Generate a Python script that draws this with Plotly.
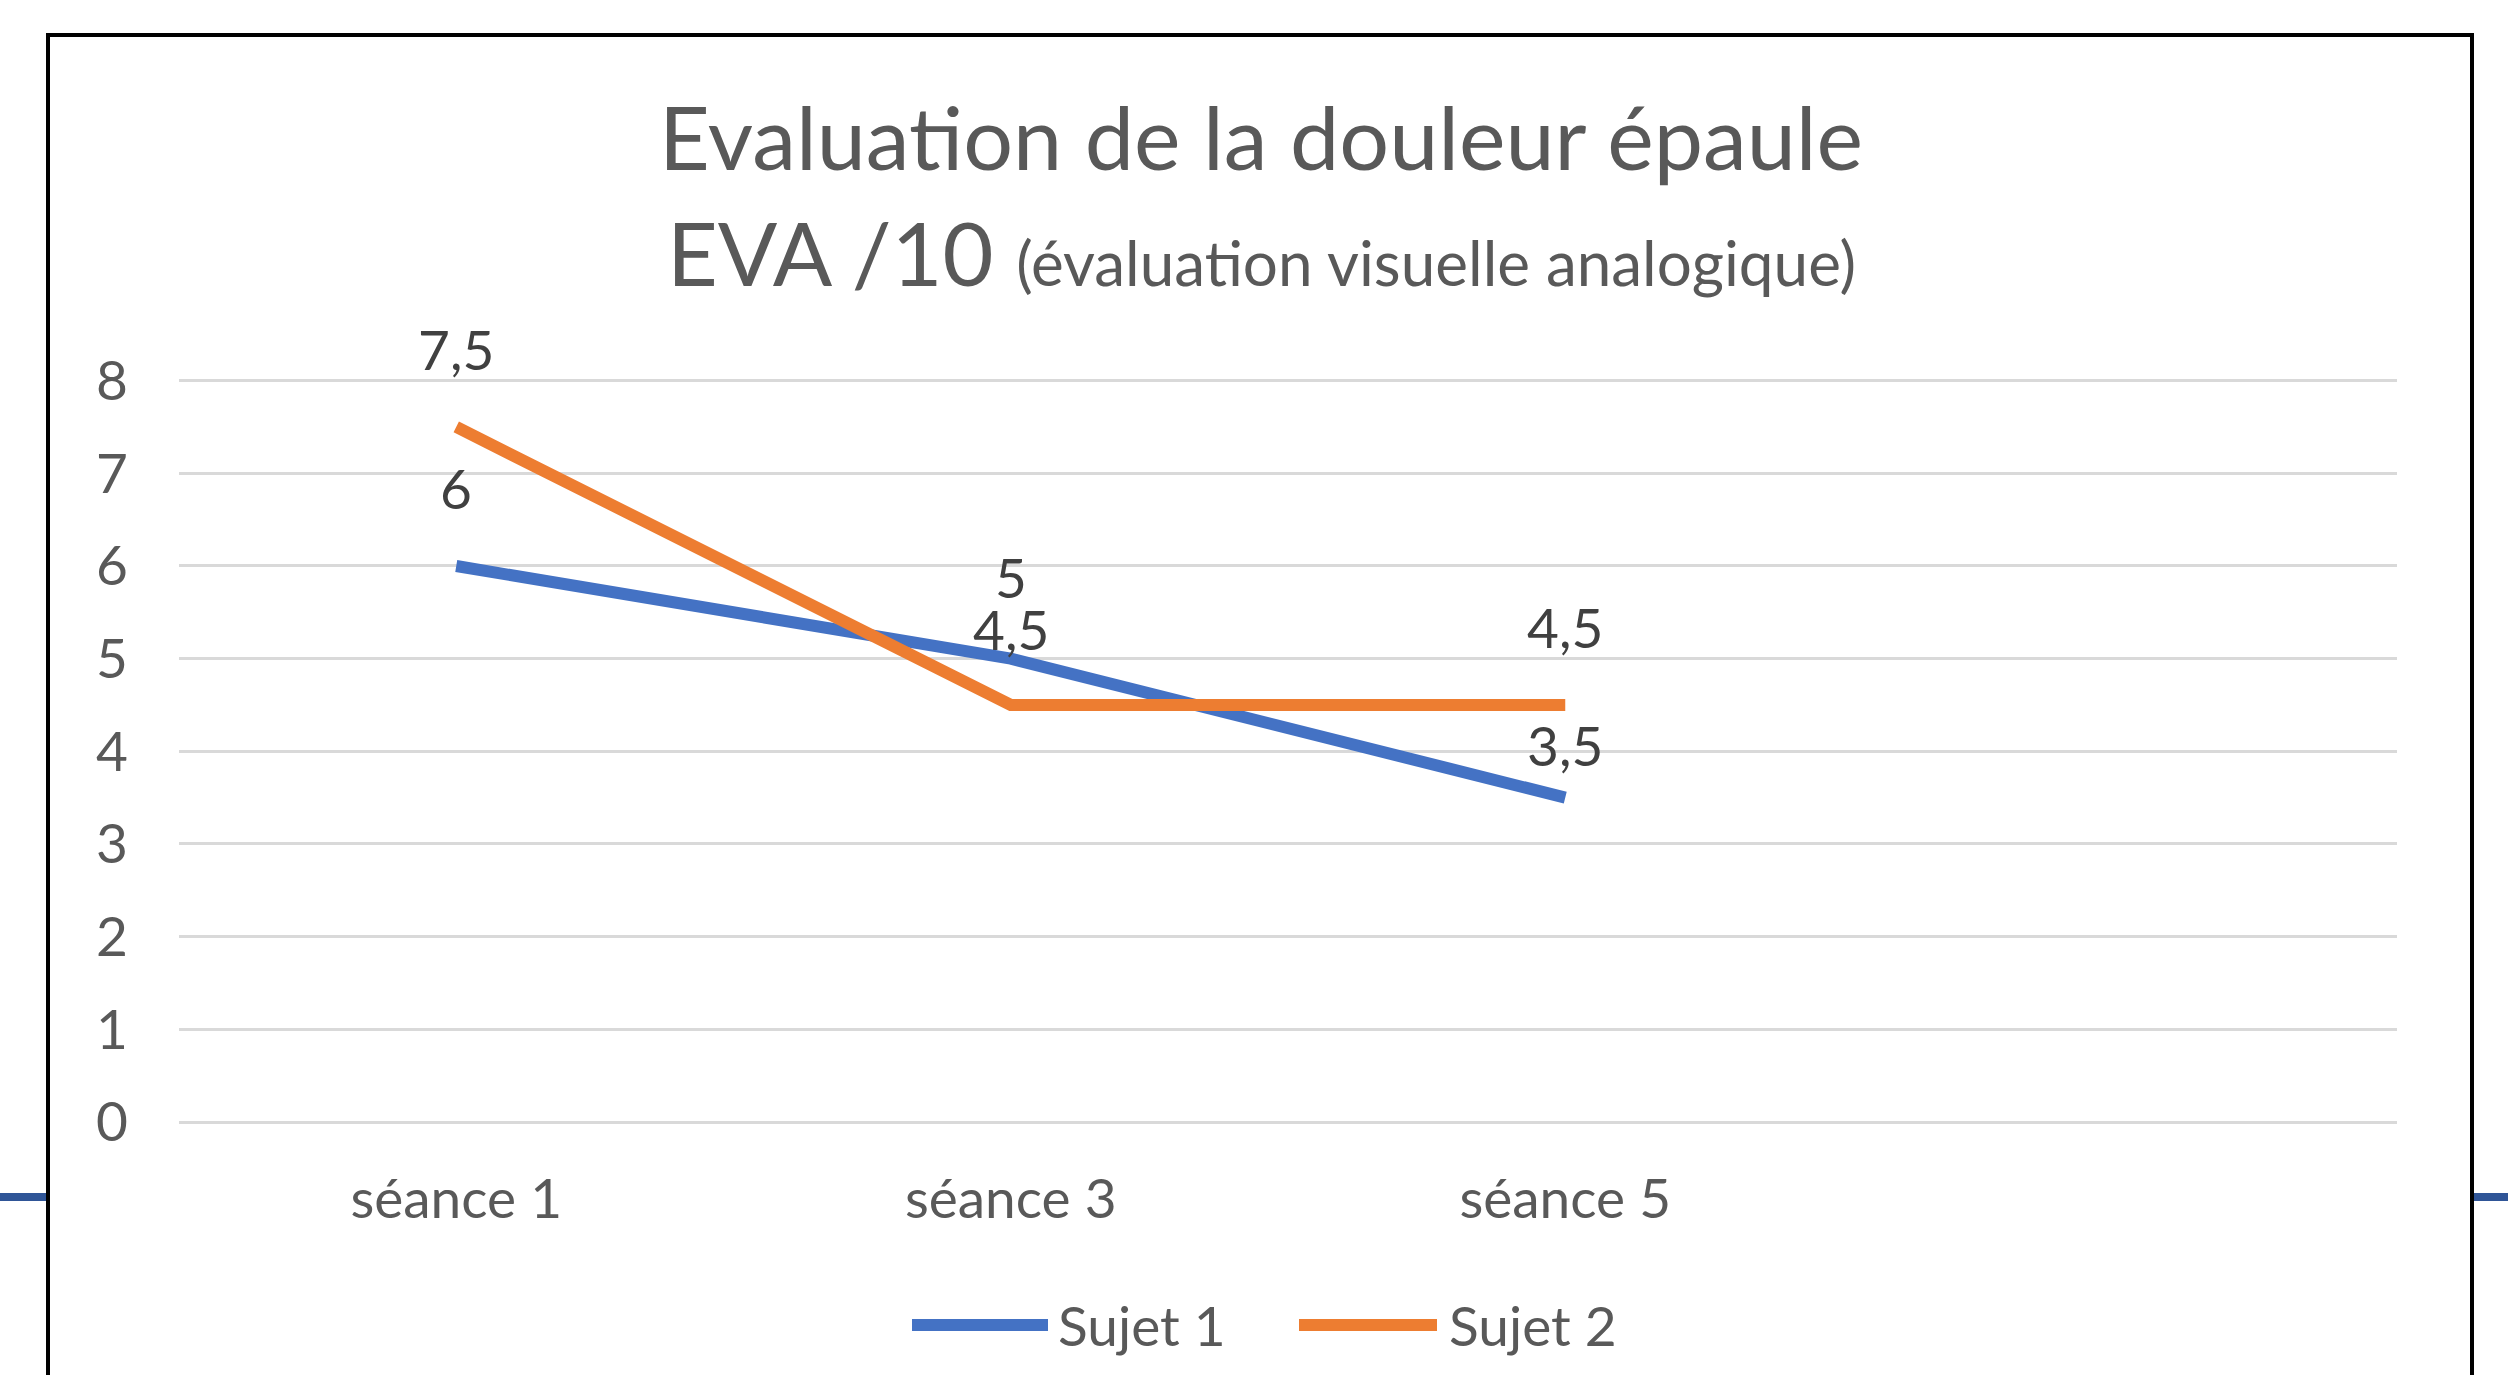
import plotly.graph_objects as go

# ---------------- data ----------------
categories = ["séance 1", "séance 3", "séance 5"]
axis_slots = ["séance 1", "séance 3", "séance 5", " "]
series_names = ["Sujet 1", "Sujet 2"]
sujet1 = [6, 5, 3.5]
sujet2 = [7.5, 4.5, 4.5]
y_ticks = [0, 1, 2, 3, 4, 5, 6, 7, 8]

# ---------------- styles ----------------
W, H = 2508, 1375
L, R, T, B = 179, 111, 376, 253
PW, PH = W - L - R, H - T - B
FONT = "Lato"
C_BLUE = "#4472C4"
C_ORANGE = "#ED7D31"
C_AXIS = "#595959"
C_LABEL = "#404040"
C_GRID = "#D9D9D9"
LINE_W = 12
SMALL = 55
label_shift_1 = [78, 82, 53]
label_shift_2 = [78, 76, 78]


def px(x):
    return (x - L) / PW


def py(y):
    return (H - B - y) / PH


fig = go.Figure()
for name, vals, col in [(series_names[0], sujet1, C_BLUE), (series_names[1], sujet2, C_ORANGE)]:
    fig.add_trace(go.Scatter(
        x=categories, y=vals, mode="lines", name=name,
        line=dict(color=col, width=LINE_W),
        showlegend=False, hoverinfo="x+y+name",
    ))

annotations = []
for vals, shifts in [(sujet1, label_shift_1), (sujet2, label_shift_2)]:
    for c, v, s in zip(categories, vals, shifts):
        annotations.append(dict(
            x=c, y=v, xref="x", yref="y", text=f"{v:g}".replace(".", ","),
            showarrow=False, yshift=s, yanchor="middle",
            font=dict(family=FONT, size=SMALL, color=C_LABEL),
        ))

# title
annotations.append(dict(
    x=px(1261), y=py(136), xref="paper", yref="paper", showarrow=False,
    text="Evaluation de la douleur épaule", xanchor="center", yanchor="middle",
    font=dict(family=FONT, size=88, color=C_AXIS),
))
annotations.append(dict(
    x=px(1261), y=py(252), xref="paper", yref="paper", showarrow=False,
    text="EVA /10 <span style='font-size:62px'>(évaluation visuelle analogique)</span>",
    xanchor="center", yanchor="middle",
    font=dict(family=FONT, size=88, color=C_AXIS),
))

# custom legend
shapes = []
legend_items = [(series_names[0], C_BLUE, 912, 1048, 1056), (series_names[1], C_ORANGE, 1299, 1437, 1447)]
for name, col, x0, x1, xt in legend_items:
    shapes.append(dict(type="line", xref="paper", yref="paper",
                       x0=px(x0), x1=px(x1), y0=py(1325), y1=py(1325),
                       line=dict(color=col, width=LINE_W)))
    annotations.append(dict(
        x=px(xt), y=py(1325), xref="paper", yref="paper", showarrow=False,
        text=name, xanchor="left", yanchor="middle",
        font=dict(family=FONT, size=SMALL, color=C_AXIS),
    ))

# decorative blue slide line and chart frame
shapes.append(dict(type="line", xref="paper", yref="paper", x0=px(-10), x1=px(48),
                   y0=py(1197), y1=py(1197), line=dict(color="#2F5597", width=8), layer="below"))
shapes.append(dict(type="line", xref="paper", yref="paper", x0=px(2472), x1=px(2520),
                   y0=py(1197), y1=py(1197), line=dict(color="#2F5597", width=8), layer="below"))
shapes.append(dict(type="rect", xref="paper", yref="paper", x0=px(48), x1=px(2472),
                   y0=py(1420), y1=py(35), line=dict(color="black", width=4),
                   fillcolor="rgba(0,0,0,0)", layer="above"))

fig.update_layout(
    width=W, height=H,
    margin=dict(l=L, r=R, t=T, b=B, pad=0),
    paper_bgcolor="white", plot_bgcolor="white",
    showlegend=False,
    annotations=annotations, shapes=shapes,
    xaxis=dict(
        type="category", categoryorder="array", categoryarray=axis_slots,
        range=[-0.5, 3.5], showgrid=False, zeroline=False, showline=False,
        ticks="", tickfont=dict(family=FONT, size=SMALL, color=C_AXIS),
        ticklabelstandoff=40,
    ),
    yaxis=dict(
        range=[0, 8.05], tickvals=y_ticks, showgrid=True, gridcolor=C_GRID, gridwidth=3,
        zeroline=True, zerolinecolor=C_GRID, zerolinewidth=3, showline=False,
        ticks="", tickfont=dict(family=FONT, size=SMALL, color=C_AXIS),
        ticklabelstandoff=50,
    ),
)

fig.write_html(
    "out.html",
    config={"displayModeBar": False},
    post_script="document.body.style.margin='0';document.body.style.overflow='hidden';",
)
